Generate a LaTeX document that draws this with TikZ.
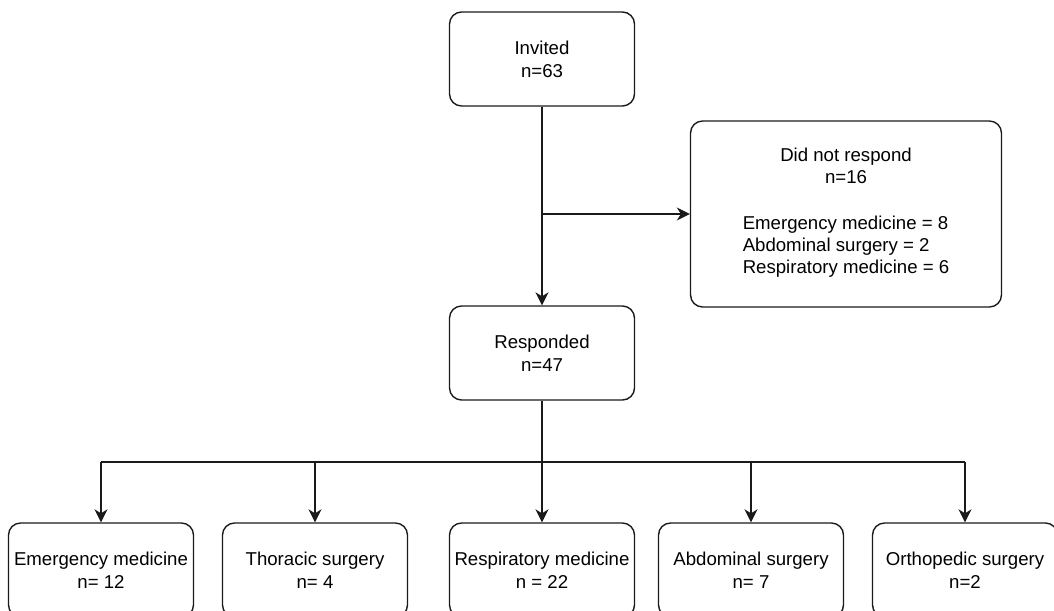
\documentclass[tikz,border=0pt]{standalone}
\usepackage{fontspec}
\setmainfont{Liberation Sans}
\usepackage{tikz}
\usetikzlibrary{arrows.meta, positioning, calc}
\definecolor{linecol}{HTML}{1A1A1A}

\begin{document}
\begin{tikzpicture}[x=0.02cm, y=-0.02cm,
    box/.style={draw=linecol, line width=0.8pt, rounded corners=0.24cm, align=center,
        font=\fontsize{10.6}{13}\selectfont, inner sep=0pt},
    smallbox/.style={box, minimum width=3.7cm, minimum height=1.88cm},
    link/.style={draw=linecol, line width=0.8pt, -{Stealth[length=2.6mm, width=2.6mm, inset=0.8mm]}}]
    \useasboundingbox (0,0) rectangle (1054,611);

    % Top part of the flow
    \node[smallbox] (invited) at (542,59) {Invited\\n=63};
    \node[smallbox] (responded) at (542,353) {Responded\\n=47};
    \node[box, minimum width=6.22cm, minimum height=3.72cm] (noresp) at (846,214)
        {Did not respond\\n=16\\[16pt]\begin{tabular}{@{}l@{}}Emergency medicine = 8\\[-0.6pt]Abdominal surgery = 2\\[-0.6pt]Respiratory medicine = 6\end{tabular}};

    \coordinate (split) at (542,214);
    \draw[link] (invited) -- (responded);
    \draw[link] (split) -- (noresp.west);

    % Specialties of those who responded
    \node[smallbox] (emerg) at (101,570) {Emergency medicine\\n= 12};
    \node[smallbox] (thorac) at (315,570) {Thoracic surgery\\n= 4};
    \node[smallbox] (resp) at (542,570) {Respiratory medicine\\n = 22};
    \node[smallbox] (abdom) at (751,570) {Abdominal surgery\\n= 7};
    \node[smallbox] (ortho) at (965,570) {Orthopedic surgery\\n=2};

    \coordinate (fork) at (542,462);
    \draw[link] (responded) -- (resp);
    \draw[draw=linecol, line width=0.8pt] (emerg.north |- fork) -- (ortho.north |- fork);
    \foreach \b in {emerg, thorac, abdom, ortho}
        \draw[link] (\b.north |- fork) -- (\b.north);
\end{tikzpicture}
\end{document}
